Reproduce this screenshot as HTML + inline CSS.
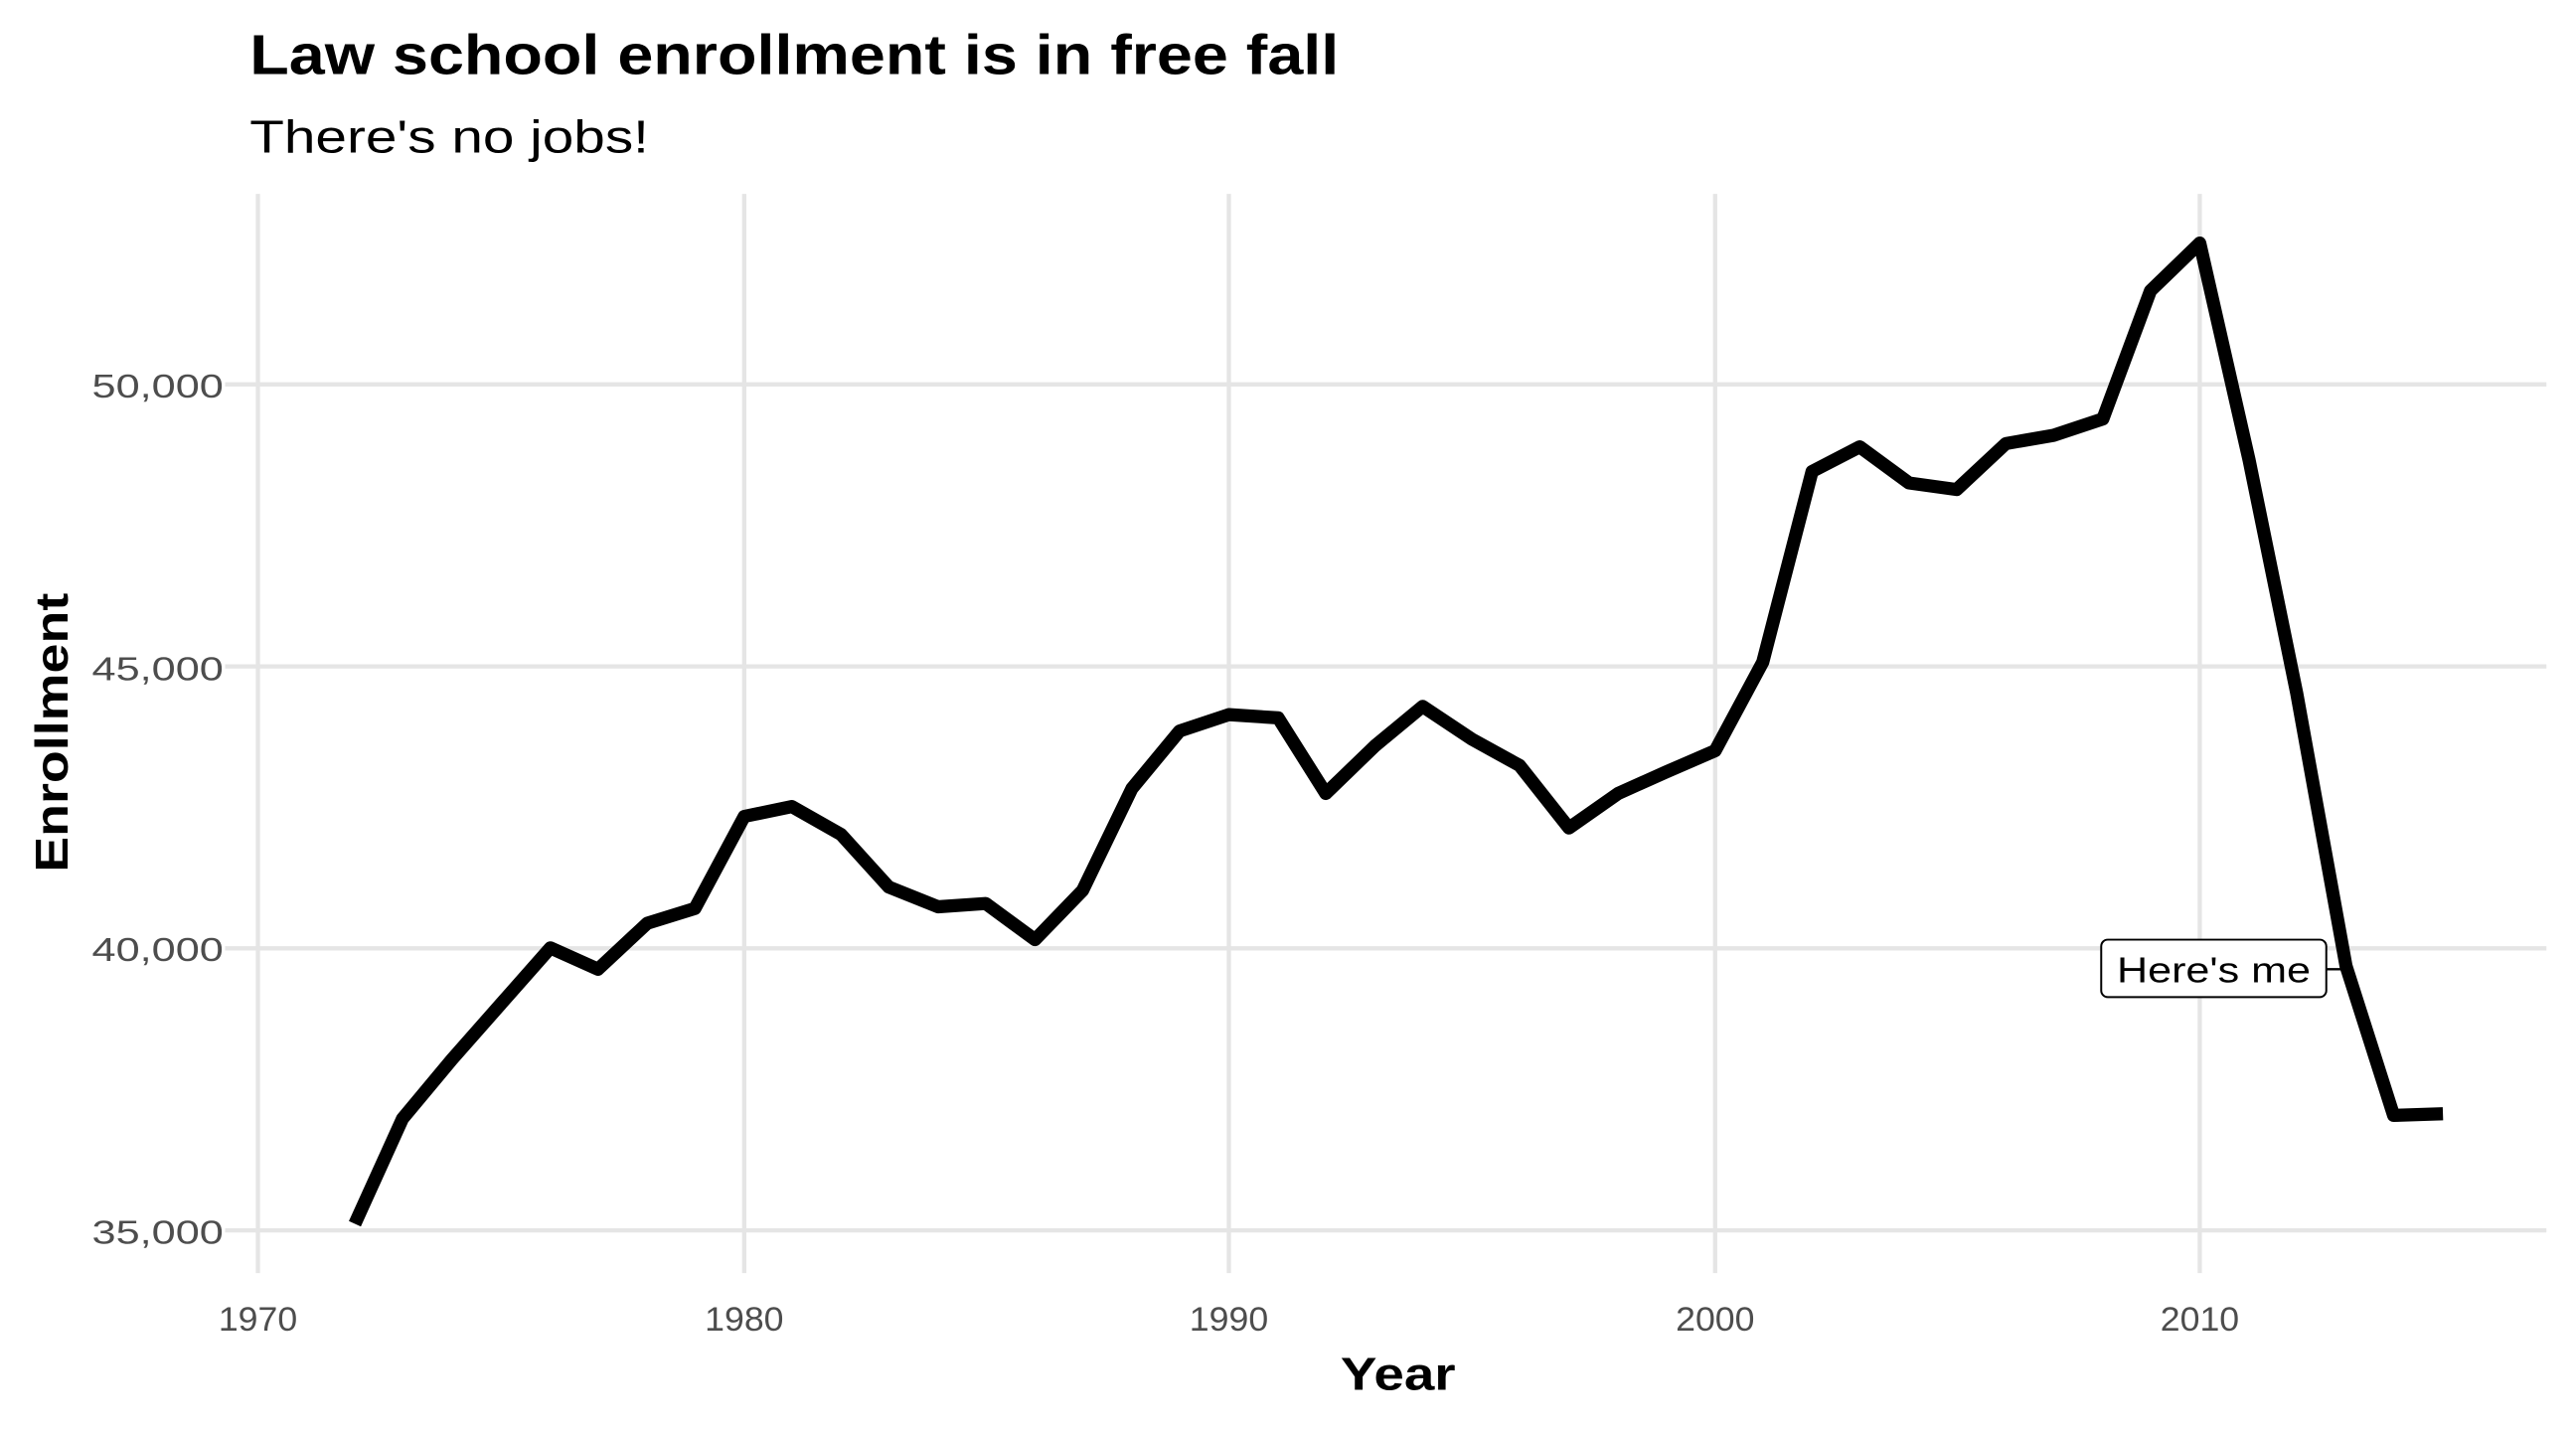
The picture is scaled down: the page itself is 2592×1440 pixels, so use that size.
<!DOCTYPE html>
<html><head><meta charset="utf-8"><style>html,body{margin:0;padding:0;background:#fff}svg{display:block}</style></head>
<body>
<svg width="2592" height="1440" viewBox="0 0 1568 871.1" xmlns="http://www.w3.org/2000/svg" font-family="Liberation Sans, sans-serif">
<rect width="1568" height="871.1" fill="#fff"/>
<g stroke="#e5e5e5" stroke-width="2.6">
<line x1="157" y1="118" x2="157" y2="775"/>
<line x1="453" y1="118" x2="453" y2="775"/>
<line x1="748" y1="118" x2="748" y2="775"/>
<line x1="1044" y1="118" x2="1044" y2="775"/>
<line x1="1339" y1="118" x2="1339" y2="775"/>
<line x1="137" y1="749" x2="1550" y2="749"/>
<line x1="137" y1="577.3" x2="1550" y2="577.3"/>
<line x1="137" y1="405.7" x2="1550" y2="405.7"/>
<line x1="137" y1="234" x2="1550" y2="234"/>
</g>
<text x="152" y="45" font-size="34" font-weight="bold" textLength="663" lengthAdjust="spacingAndGlyphs">Law school enrollment is in free fall</text>
<text x="152" y="93" font-size="28" textLength="243" lengthAdjust="spacingAndGlyphs">There's no jobs!</text>
<g font-size="20" fill="#4d4d4d" text-anchor="end">
<text x="136" y="757" textLength="80" lengthAdjust="spacingAndGlyphs">35,000</text>
<text x="136" y="585" textLength="80" lengthAdjust="spacingAndGlyphs">40,000</text>
<text x="136" y="414" textLength="80" lengthAdjust="spacingAndGlyphs">45,000</text>
<text x="136" y="242" textLength="80" lengthAdjust="spacingAndGlyphs">50,000</text>
</g>
<g font-size="21" fill="#4d4d4d" text-anchor="middle">
<text x="157" y="810" textLength="48" lengthAdjust="spacingAndGlyphs">1970</text>
<text x="453" y="810" textLength="48" lengthAdjust="spacingAndGlyphs">1980</text>
<text x="748" y="810" textLength="48" lengthAdjust="spacingAndGlyphs">1990</text>
<text x="1044" y="810" textLength="48" lengthAdjust="spacingAndGlyphs">2000</text>
<text x="1339" y="810" textLength="48" lengthAdjust="spacingAndGlyphs">2010</text>
</g>
<text x="851" y="846" font-size="28" font-weight="bold" text-anchor="middle" textLength="70" lengthAdjust="spacingAndGlyphs">Year</text>
<text transform="translate(41,446) rotate(-90)" font-size="28" font-weight="bold" text-anchor="middle" textLength="170" lengthAdjust="spacingAndGlyphs">Enrollment</text>
<polyline fill="none" stroke="#000" stroke-width="8" stroke-linejoin="round" points="216,745 245,681 275,645 305,611 335,577 364,590 394,562 423,553 453,497 482,491 512,508 541,540 571,552 600,550 630,572 659,542 689,480 718,445 748,435 778,437 807,483 837,454 866,430 896,450 925,466 955,504 985,483 1014,470 1044,457 1073,403 1103,287 1132,272 1162,294 1191,298 1221,270 1250,265 1280,255 1309,177 1339,148 1369,280 1398,422 1428,588 1457,679 1487,678"/>
<line x1="1416" y1="590" x2="1426" y2="590" stroke="#000" stroke-width="1.5"/>
<rect x="1279" y="572" width="137" height="35" rx="4" fill="#fff" stroke="#000" stroke-width="1.2"/>
<text x="1347.5" y="598" font-size="22" text-anchor="middle" textLength="118" lengthAdjust="spacingAndGlyphs">Here's me</text>
</svg>
</body></html>
